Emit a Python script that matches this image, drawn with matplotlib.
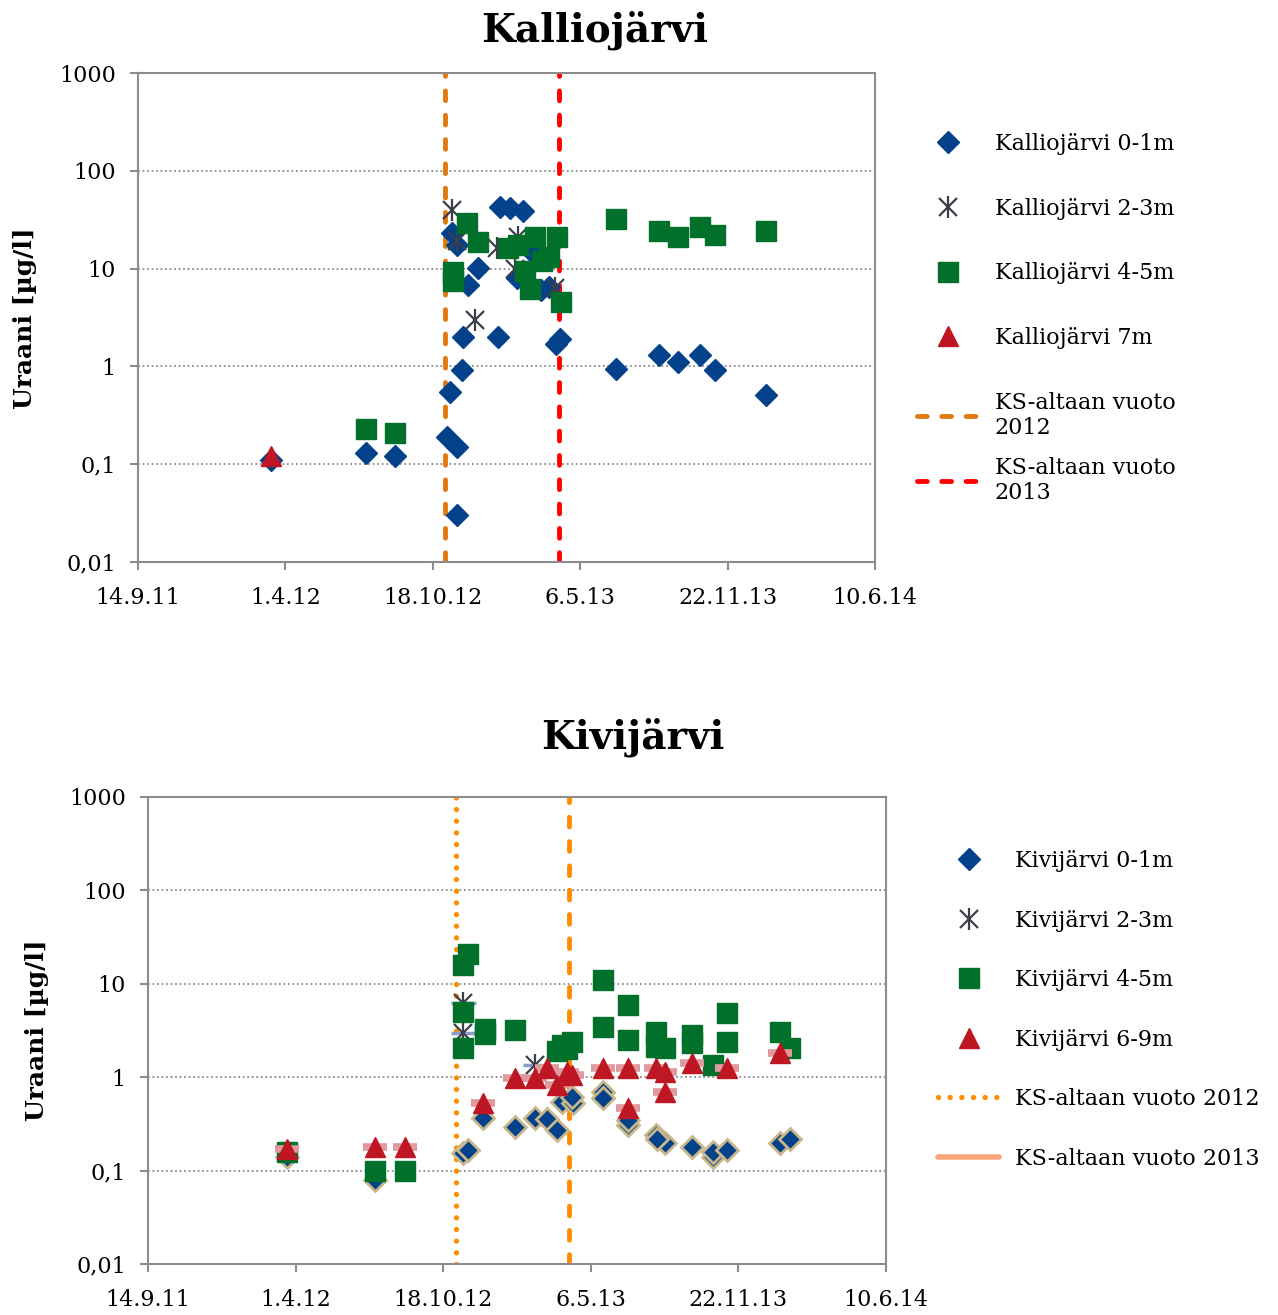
import numpy as np
import pandas as pd
import matplotlib
matplotlib.use('Agg')
import matplotlib.pyplot as plt
from matplotlib.lines import Line2D
from matplotlib.ticker import NullLocator

plt.rcParams['font.family'] = ['DejaVu Serif', 'DejaVu Sans']

# ---------------- data: Kalliojärvi ----------------
k01_dates = ['2012-03-12', '2012-07-19', '2012-08-28', '2012-11-06', '2012-11-20', '2012-11-20',
             '2012-11-10', '2012-11-27', '2012-11-28', '2013-01-14', '2013-04-03', '2013-04-09',
             '2013-06-24', '2013-08-21', '2013-09-16', '2013-10-16', '2013-11-05', '2014-01-13',
             '2012-11-13', '2012-11-20', '2012-12-05', '2012-12-18', '2013-01-17', '2013-01-31',
             '2013-02-17', '2013-02-09', '2013-03-03', '2013-03-14', '2013-03-25']
k01_vals = [0.11, 0.13, 0.12, 0.19, 0.15, 0.03,
            0.55, 0.92, 2.0, 2.0, 1.7, 1.9,
            0.95, 1.3, 1.1, 1.3, 0.92, 0.51,
            23, 17.5, 6.8, 10.1, 43, 42,
            39, 8.0, 14.4, 6.0, 6.5]

k23_dates = ['2012-11-13', '2012-11-20', '2012-12-14', '2013-01-13', '2013-02-11', '2013-02-07',
             '2013-04-02']
k23_vals = [40, 19, 3.0, 16.3, 21, 10, 6.3]

k45_dates = ['2012-07-19', '2012-08-28', '2012-11-14', '2012-11-14', '2012-12-03', '2012-12-18',
             '2013-01-28', '2013-02-11', '2013-03-06', '2013-02-20', '2013-02-27', '2013-03-15',
             '2013-03-25', '2013-04-05', '2013-04-10', '2013-06-24', '2013-08-21', '2013-09-16',
             '2013-10-16', '2013-11-05', '2014-01-13']
k45_vals = [0.23, 0.21, 9.2, 7.4, 29, 18.7,
            16.3, 17.5, 21, 9.5, 6.2, 12,
            13, 21, 4.6, 32, 24.5, 21,
            26.8, 22, 24.5]

k7_dates = ['2012-03-12']
k7_vals = [0.12]

# ---------------- data: Kivijärvi ----------------
v01_dates = ['2012-03-20', '2012-07-18', '2012-11-14', '2012-11-21', '2012-12-11', '2013-01-23',
             '2013-02-19', '2013-03-08', '2013-03-21', '2013-03-28', '2013-04-12', '2013-04-11',
             '2013-05-23', '2013-05-23', '2013-06-25', '2013-06-25', '2013-08-02', '2013-08-14',
             '2013-08-04', '2013-09-20', '2013-10-18', '2013-10-18', '2013-11-07', '2014-01-17',
             '2014-01-31']
v01_vals = [0.14, 0.08, 0.154, 0.166, 0.37, 0.29,
            0.37, 0.36, 0.27, 0.54, 0.53, 0.62,
            0.69, 0.60, 0.31, 0.35, 0.24, 0.198,
            0.22, 0.179, 0.14, 0.158, 0.166, 0.198,
            0.22]

v23_dates = ['2012-11-14', '2012-11-14', '2013-02-19']
v23_vals = [6.2, 3.0, 1.35]

v45_dates = ['2012-03-20', '2012-07-18', '2012-08-27', '2012-11-14', '2012-11-21', '2012-11-14',
             '2012-11-14', '2012-12-14', '2012-12-14', '2013-01-23', '2013-03-21', '2013-03-28',
             '2013-04-04', '2013-04-11', '2013-05-23', '2013-05-23', '2013-06-25', '2013-06-25',
             '2013-08-02', '2013-08-02', '2013-08-14', '2013-09-20', '2013-09-20', '2013-10-18',
             '2013-11-07', '2013-11-07', '2014-01-17', '2014-01-31']
v45_vals = [0.16, 0.1, 0.1, 16, 21, 5.0,
            2.05, 3.3, 2.9, 3.2, 1.9, 2.2,
            2.0, 2.4, 11, 3.45, 5.9, 2.5,
            3.05, 2.1, 2.05, 2.8, 2.3, 1.35,
            4.9, 2.4, 3.05, 2.05]

v69_dates = ['2012-03-20', '2012-07-18', '2012-08-27', '2012-12-11', '2013-01-23', '2013-02-19',
             '2013-03-08', '2013-03-21', '2013-04-04', '2013-04-11', '2013-05-23', '2013-06-25',
             '2013-06-25', '2013-08-02', '2013-08-14', '2013-08-14', '2013-09-20', '2013-11-07',
             '2014-01-17']
v69_vals = [0.17, 0.18, 0.18, 0.53, 0.98, 0.98,
            1.25, 0.82, 1.13, 1.05, 1.25, 1.27,
            0.47, 1.25, 1.13, 0.7, 1.41, 1.25,
            1.82]

leak_dates = ['2012-11-04', '2013-04-07']

x_start = '2011-09-14'
x_step_days = 200
n_xticks = 6
y_ticks = [0.01, 0.1, 1, 10, 100, 1000]
y_ticklabels = ['0,01', '0,1', '1', '10', '100', '1000']

BLUE = '#03428a'
GREEN = '#00702a'
RED = '#be1622'
GREY = '#3c3f48'
AXC = '#8c8c8c'

MS_D, MS_S, MS_T = 11.5, 15, 15
DASH = dict(lw=3.5, dashes=(2.0, 3.0), dash_capstyle='round')
DOTS = dict(lw=3.8, dashes=(0.01, 2.2), dash_capstyle='round')

W, H = 1278, 1315
fig = plt.figure(figsize=(W / 100, H / 100), dpi=100)


def setup_axes(ax):
    xt = [pd.Timestamp(x_start) + pd.Timedelta(days=x_step_days * k) for k in range(n_xticks)]
    ax.set_yscale('log')
    ax.set_ylim(y_ticks[0], y_ticks[-1])
    ax.set_yticks(y_ticks)
    ax.set_yticklabels(y_ticklabels)
    ax.yaxis.set_minor_locator(NullLocator())
    ax.set_xlim(xt[0], xt[-1])
    ax.set_xticks(xt)
    ax.set_xticklabels(['%d.%d.%02d' % (t.day, t.month, t.year % 100) for t in xt])
    ax.tick_params(axis='both', labelsize=16, color=AXC, width=1.5, length=6, direction='out')
    ax.tick_params(axis='x', pad=12)
    ax.tick_params(axis='y', pad=10)
    for s in ax.spines.values():
        s.set_color(AXC)
        s.set_linewidth(1.5)
    ax.grid(axis='y', which='major', color=AXC, linestyle=(0, (1, 1.5)), linewidth=1.3)
    ax.set_axisbelow(True)


def asterisk(ax, d, v, ms, zorder, bar=None):
    d = pd.to_datetime(d)
    if bar is not None:
        ax.plot(d, v, ls='none', marker='_', ms=ms + 2, mew=2.5, color=bar, zorder=zorder - 0.5)
    ax.plot(d, v, ls='none', marker='x', ms=ms * 0.8, mew=1.6, color=GREY, zorder=zorder)
    ax.plot(d, v, ls='none', marker='|', ms=ms, mew=1.6, color=GREY, zorder=zorder)


# ---------------- top chart ----------------
ax1 = fig.add_axes([138 / W, 1 - 562 / H, (875 - 138) / W, (562 - 73) / H])
setup_axes(ax1)
ld = pd.to_datetime(leak_dates)
ax1.axvline(ld[0], color='#e07a10', zorder=1.5, **DASH)
ax1.axvline(ld[1], color='#ff0000', zorder=1.5, **DASH)
ax1.plot(pd.to_datetime(k01_dates), k01_vals, ls='none', marker='D', ms=MS_D, color=BLUE, zorder=3)
asterisk(ax1, k23_dates, k23_vals, 16, 4)
ax1.plot(pd.to_datetime(k45_dates), k45_vals, ls='none', marker='s', ms=MS_S, color=GREEN, zorder=5)
ax1.plot(pd.to_datetime(k7_dates), k7_vals, ls='none', marker='^', ms=MS_T, color=RED, zorder=6)

fig.text(595 / W, 1 - 30 / H, 'Kalliojärvi', ha='center', va='center', fontsize=28, fontweight='bold')
fig.text(25 / W, 1 - 318 / H, 'Uraani [µg/l]', ha='center', va='center', rotation=90,
         fontsize=18, fontweight='bold')

h_ast = (Line2D([], [], ls='none', marker='x', ms=12.8, mew=1.6, color=GREY),
         Line2D([], [], ls='none', marker='|', ms=16, mew=1.6, color=GREY))
handles1 = [Line2D([], [], ls='none', marker='D', ms=MS_D, color=BLUE),
            h_ast,
            Line2D([], [], ls='none', marker='s', ms=MS_S, color=GREEN),
            Line2D([], [], ls='none', marker='^', ms=MS_T, color=RED),
            Line2D([], [], color='#e07a10', **DASH),
            Line2D([], [], color='#ff0000', **DASH)]
labels1 = ['Kalliojärvi 0-1m', 'Kalliojärvi 2-3m', 'Kalliojärvi 4-5m', 'Kalliojärvi 7m',
           'KS-altaan vuoto\n2012', 'KS-altaan vuoto\n2013']
leg_kw = dict(loc='upper left', frameon=False, fontsize=16, handlelength=2.75,
              handletextpad=0.75, borderpad=0, borderaxespad=0)
fig.legend(handles1[:5], labels1[:5], bbox_to_anchor=(917 / W, 1 - 133 / H),
           labelspacing=1.92, **leg_kw)
fig.legend(handles1[5:], labels1[5:], bbox_to_anchor=(917 / W, 1 - 457 / H), **leg_kw)

# ---------------- bottom chart ----------------
ax2 = fig.add_axes([148 / W, 1 - 1264 / H, (886 - 148) / W, (1264 - 797) / H])
setup_axes(ax2)
ax2.axvline(ld[0], color='#ff8c00', zorder=1.5, **DOTS)
ax2.axvline(ld[1], color='#ff8c00', zorder=1.5, **DASH)
ax2.plot(pd.to_datetime(v01_dates), v01_vals, ls='none', marker='D', ms=MS_D, color=BLUE,
         mec='#c9b68a', mew=2.0, zorder=3)
asterisk(ax2, v23_dates, v23_vals, 16, 4, bar='#8a9cc8')
ax2.plot(pd.to_datetime(v45_dates), v45_vals, ls='none', marker='s', ms=MS_S, color=GREEN, zorder=5)
ax2.plot(pd.to_datetime(v69_dates), v69_vals, ls='none', marker='_', ms=17, mew=5.5,
         color='#e09a9e', zorder=5.5)
ax2.plot(pd.to_datetime(v69_dates), v69_vals, ls='none', marker='^', ms=MS_T, color=RED, zorder=6)

fig.text(633 / W, 1 - 737 / H, 'Kivijärvi', ha='center', va='center', fontsize=28, fontweight='bold')
fig.text(37 / W, 1 - 1030 / H, 'Uraani [µg/l]', ha='center', va='center', rotation=90,
         fontsize=18, fontweight='bold')

handles2 = [Line2D([], [], ls='none', marker='D', ms=MS_D, color=BLUE),
            h_ast,
            Line2D([], [], ls='none', marker='s', ms=MS_S, color=GREEN),
            Line2D([], [], ls='none', marker='^', ms=MS_T, color=RED),
            Line2D([], [], color='#ff8c00', **DOTS),
            Line2D([], [], color='#f9a77a', lw=4, solid_capstyle='round')]
labels2 = ['Kivijärvi 0-1m', 'Kivijärvi 2-3m', 'Kivijärvi 4-5m', 'Kivijärvi 6-9m',
           'KS-altaan vuoto 2012', 'KS-altaan vuoto 2013']
fig.legend(handles2, labels2, bbox_to_anchor=(938 / W, 1 - 850 / H),
           labelspacing=1.69, **dict(leg_kw, handletextpad=0.7))

fig.savefig('out.png', dpi=100)
